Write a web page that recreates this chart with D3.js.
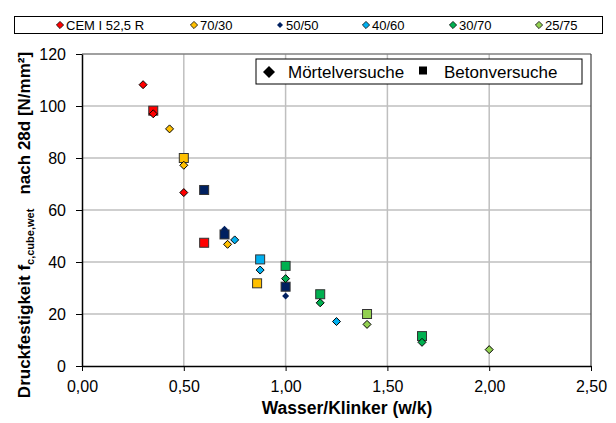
<!DOCTYPE html>
<html>
<head>
<meta charset="utf-8">
<script src="https://cdn.jsdelivr.net/npm/d3@7"></script>
<style>
  html, body { margin: 0; padding: 0; background: #fff; }
  svg { display: block; font-family: "Liberation Sans", Arial, sans-serif; }
</style>
</head>
<body>
<svg id="chart" width="616" height="423"></svg>
<script>
// Mixture series: CEM I reference cement and clinker/slag blends
const seriesNames = ["CEM I 52,5 R", "70/30", "50/50", "40/60", "30/70", "25/75"];
const seriesColors = ["#FF0000", "#FFC000", "#002060", "#00B0F0", "#00B050", "#92D050"];

// Mortar tests (diamonds): [w/k, strength]
const mortarCEM = [[0.30, 108.2], [0.35, 97.0], [0.50, 66.7]];
const mortar7030 = [[0.43, 91.2], [0.50, 77.2], [0.715, 46.8]];
const mortar5050 = [[0.70, 52.6], [1.00, 26.9]];
const mortar4060 = [[0.75, 48.5], [0.875, 36.9], [1.25, 17.1]];
const mortar3070 = [[1.00, 33.6], [1.17, 24.3], [1.67, 9.1]];
const mortar2575 = [[1.40, 16.0], [2.00, 6.3]];

// Concrete tests (squares): [w/k, strength]
const concreteCEM = [[0.35, 98.2], [0.60, 47.4]];
const concrete7030 = [[0.50, 80.0], [0.86, 31.8]];
const concrete5050 = [[0.60, 67.7], [0.70, 50.6], [1.00, 30.5]];
const concrete4060 = [[0.875, 41.0]];
const concrete3070 = [[1.00, 38.5], [1.17, 27.6], [1.67, 11.5]];
const concrete2575 = [[1.40, 20.0]];

const xTicks = [0, 0.5, 1.0, 1.5, 2.0, 2.5];
const yTicks = [0, 20, 40, 60, 80, 100, 120];

const mortar = [mortarCEM, mortar7030, mortar5050, mortar4060, mortar3070, mortar2575];
const concrete = [concreteCEM, concrete7030, concrete5050, concrete4060, concrete3070, concrete2575];

const svg = d3.select("#chart");
const plot = { left: 82, right: 591, top: 54, bottom: 366 };

const x = d3.scaleLinear().domain([0, 2.5]).range([plot.left, plot.right]);
const y = d3.scaleLinear().domain([0, 120]).range([plot.bottom, plot.top]);

const fmtX = d => d.toFixed(2).replace(".", ",");

// gridlines
const g = svg.append("g");
g.selectAll(".vgrid").data(xTicks.slice(1, -1)).enter().append("line")
  .attr("x1", d => x(d)).attr("x2", d => x(d))
  .attr("y1", plot.top).attr("y2", plot.bottom)
  .attr("stroke", "#BFBFBF").attr("stroke-width", 1.5);
g.selectAll(".hgrid").data(yTicks.slice(1, -1)).enter().append("line")
  .attr("x1", plot.left).attr("x2", plot.right)
  .attr("y1", d => y(d)).attr("y2", d => y(d))
  .attr("stroke", "#BFBFBF").attr("stroke-width", 1.5);

// plot frame (top and right)
svg.append("line").attr("x1", plot.left).attr("x2", plot.right)
  .attr("y1", plot.top).attr("y2", plot.top).attr("stroke", "#808080").attr("stroke-width", 1.5);
svg.append("line").attr("x1", plot.right).attr("x2", plot.right)
  .attr("y1", plot.top).attr("y2", plot.bottom).attr("stroke", "#404040").attr("stroke-width", 1.2);

// axes
const xAxis = d3.axisBottom(x).tickValues(xTicks).tickFormat(fmtX).tickSize(5).tickSizeOuter(0);
const yAxis = d3.axisLeft(y).tickValues(yTicks).tickFormat(d => d).tickSize(6).tickSizeOuter(0);

const gx = svg.append("g").attr("transform", `translate(0,${plot.bottom})`).call(xAxis);
const gy = svg.append("g").attr("transform", `translate(${plot.left},0)`).call(yAxis);
[gx, gy].forEach(a => {
  a.select(".domain").attr("stroke", "#000").attr("stroke-width", 1.5);
  a.selectAll(".tick line").attr("stroke", "#000").attr("stroke-width", 1);
  a.selectAll(".tick text").attr("fill", "#000").style("font-size", "16px")
    .style("font-family", "'Liberation Sans', Arial, sans-serif");
});
gx.selectAll(".tick text").attr("y", 26).attr("dy", 0);
gy.selectAll(".tick text").attr("x", -16).attr("dy", "0.35em");

// axis titles
svg.append("text").attr("x", 347).attr("y", 414)
  .attr("text-anchor", "middle").attr("font-weight", "bold").attr("font-size", 17.5)
  .text("Wasser/Klinker (w/k)");

const yt = svg.append("text")
  .attr("transform", "translate(30,225) rotate(-90)")
  .attr("text-anchor", "middle").attr("font-weight", "bold").attr("font-size", 17)
  .attr("xml:space", "preserve");
yt.append("tspan").text("Druckfestigkeit f");
yt.append("tspan").attr("font-size", 11).attr("dy", 4).text("c,cube,wet");
yt.append("tspan").attr("dy", -4).text("   nach 28d [N/mm²]");

// markers
const diamond = (s) => `M0,${-s}L${s},0L0,${s}L${-s},0Z`;

const marks = svg.append("g");
concrete.forEach((pts, i) => {
  marks.selectAll(null).data(pts).enter().append("rect")
    .attr("x", d => x(d[0]) - 4.5).attr("y", d => y(d[1]) - 4.5)
    .attr("width", 9).attr("height", 9)
    .attr("fill", seriesColors[i]).attr("stroke", "#333").attr("stroke-width", 1);
});
mortar.forEach((pts, i) => {
  const small = i === 2;
  marks.selectAll(null).data(pts).enter().append("path")
    .attr("transform", d => `translate(${x(d[0])},${y(d[1])})`)
    .attr("d", diamond(small ? 3.5 : 4))
    .attr("fill", seriesColors[i])
    .attr("stroke", small ? "none" : "#000").attr("stroke-width", 1);
});

// series legend
const leg = svg.append("g");
leg.append("rect").attr("x", 14.5).attr("y", 16.5).attr("width", 588).attr("height", 17)
  .attr("fill", "#fff").attr("stroke", "#000").attr("stroke-width", 1);
const legX = [60, 194, 280, 366, 453, 539];
seriesNames.forEach((n, i) => {
  leg.append("path").attr("transform", `translate(${legX[i]},25)`)
    .attr("d", diamond(i === 2 ? 3 : 3.6)).attr("fill", seriesColors[i])
    .attr("stroke", i === 2 ? "none" : "#000").attr("stroke-width", 0.8);
  leg.append("text").attr("x", legX[i] + 6).attr("y", 29.5).attr("font-size", 13)
    .text(n);
});

// marker-type legend
const leg2 = svg.append("g");
leg2.append("rect").attr("x", 256).attr("y", 59).attr("width", 326).attr("height", 25)
  .attr("fill", "#fff").attr("stroke", "#000").attr("stroke-width", 1);
leg2.append("path").attr("transform", "translate(269,72)").attr("d", diamond(6)).attr("fill", "#000");
leg2.append("text").attr("x", 288).attr("y", 78).attr("font-size", 17).text("Mörtelversuche");
leg2.append("rect").attr("x", 419).attr("y", 66.5).attr("width", 8).attr("height", 8).attr("fill", "#000");
leg2.append("text").attr("x", 444).attr("y", 78).attr("font-size", 17).text("Betonversuche");
</script>
</body>
</html>
